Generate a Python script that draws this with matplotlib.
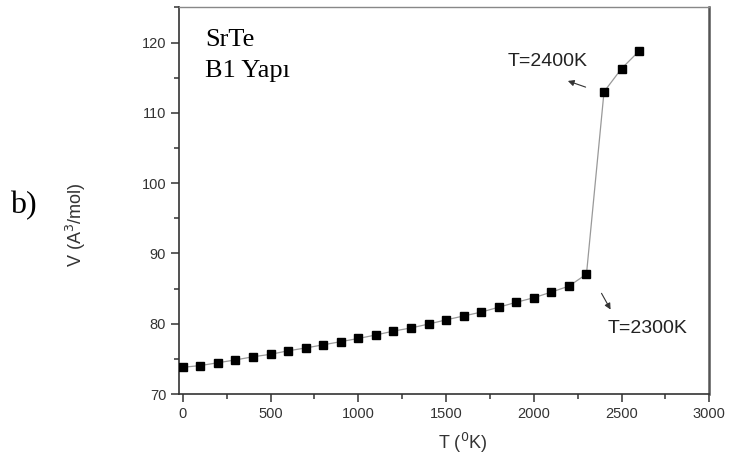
import matplotlib
matplotlib.use('Agg')
import matplotlib.pyplot as plt
from matplotlib.ticker import MultipleLocator

# temperature (K) and molar volume
temps = [0, 100, 200, 300, 400, 500, 600, 700, 800, 900, 1000, 1100, 1200,
         1300, 1400, 1500, 1600, 1700, 1800, 1900, 2000, 2100, 2200, 2300,
         2400, 2500, 2600]
volumes = [73.8, 74.05, 74.45, 74.85, 75.3, 75.65, 76.15, 76.55, 77.0, 77.45,
           77.9, 78.4, 78.95, 79.4, 79.95, 80.55, 81.1, 81.65, 82.35, 83.05,
           83.7, 84.5, 85.35, 87.05, 113.0, 116.3, 118.8]

fig = plt.figure(figsize=(7.29, 4.63), dpi=100)
ax = fig.add_axes([0.246, 0.149, 0.727, 0.835])

ax.plot(temps, volumes, color='#999999', linewidth=0.9, marker='s',
        markersize=6.3, markerfacecolor='black', markeredgecolor='black',
        zorder=3)

ax.set_xlim(-20, 3000)
ax.set_ylim(70, 125)
ax.xaxis.set_major_locator(MultipleLocator(500))
ax.xaxis.set_minor_locator(MultipleLocator(250))
ax.set_yticks([70, 80, 90, 100, 110, 120])
ax.yaxis.set_minor_locator(MultipleLocator(5))

ax.tick_params(which='major', direction='out', length=6, width=1.1,
               labelsize=10.5, labelcolor='#333333', color='#333333')
ax.tick_params(which='minor', direction='out', length=3.3, width=1.1,
               color='#333333')
for lbl in ax.get_xticklabels() + ax.get_yticklabels():
    lbl.set_fontfamily('Liberation Sans')

ax.spines['left'].set_color('#333333')
ax.spines['bottom'].set_color('#333333')
ax.spines['left'].set_linewidth(1.2)
ax.spines['bottom'].set_linewidth(1.2)
ax.spines['top'].set_color('#888888')
ax.spines['top'].set_linewidth(1.0)
ax.spines['right'].set_color('#555555')
ax.spines['right'].set_linewidth(1.8)

ax.set_xlabel('T ($^0$K)', fontsize=13, family='Liberation Sans',
              color='#333333')
ax.set_ylabel('V (A$^3$/mol)', fontsize=13, family='Liberation Sans',
              color='#333333')
ax.xaxis.set_label_coords(0.535, -0.096)
ax.yaxis.set_label_coords(-0.172, 0.437)

ax.text(0.0485, 0.9, 'SrTe', transform=ax.transAxes, fontsize=19,
        family='Liberation Serif', va='baseline')
ax.text(0.0485, 0.819, 'B1 Yapı', transform=ax.transAxes, fontsize=19,
        family='Liberation Serif', va='baseline')
fig.text(0.0137, 0.54, 'b)', fontsize=23, family='Liberation Serif',
         va='baseline')

# annotation arrows
ax.annotate('', xy=(2179, 114.67), xytext=(2310, 113.53),
            arrowprops=dict(arrowstyle='-|>', color='#333333', lw=0.8,
                            mutation_scale=9))
ax.text(2079, 117.24, 'T=2400K', fontsize=14, family='Liberation Sans',
        ha='center', va='center', color='#222222')
ax.annotate('', xy=(2445, 81.67), xytext=(2378, 84.67),
            arrowprops=dict(arrowstyle='-|>', color='#333333', lw=0.8,
                            mutation_scale=9))
ax.text(2649, 79.34, 'T=2300K', fontsize=14, family='Liberation Sans',
        ha='center', va='center', color='#222222')

fig.savefig('out.png', dpi=100)
